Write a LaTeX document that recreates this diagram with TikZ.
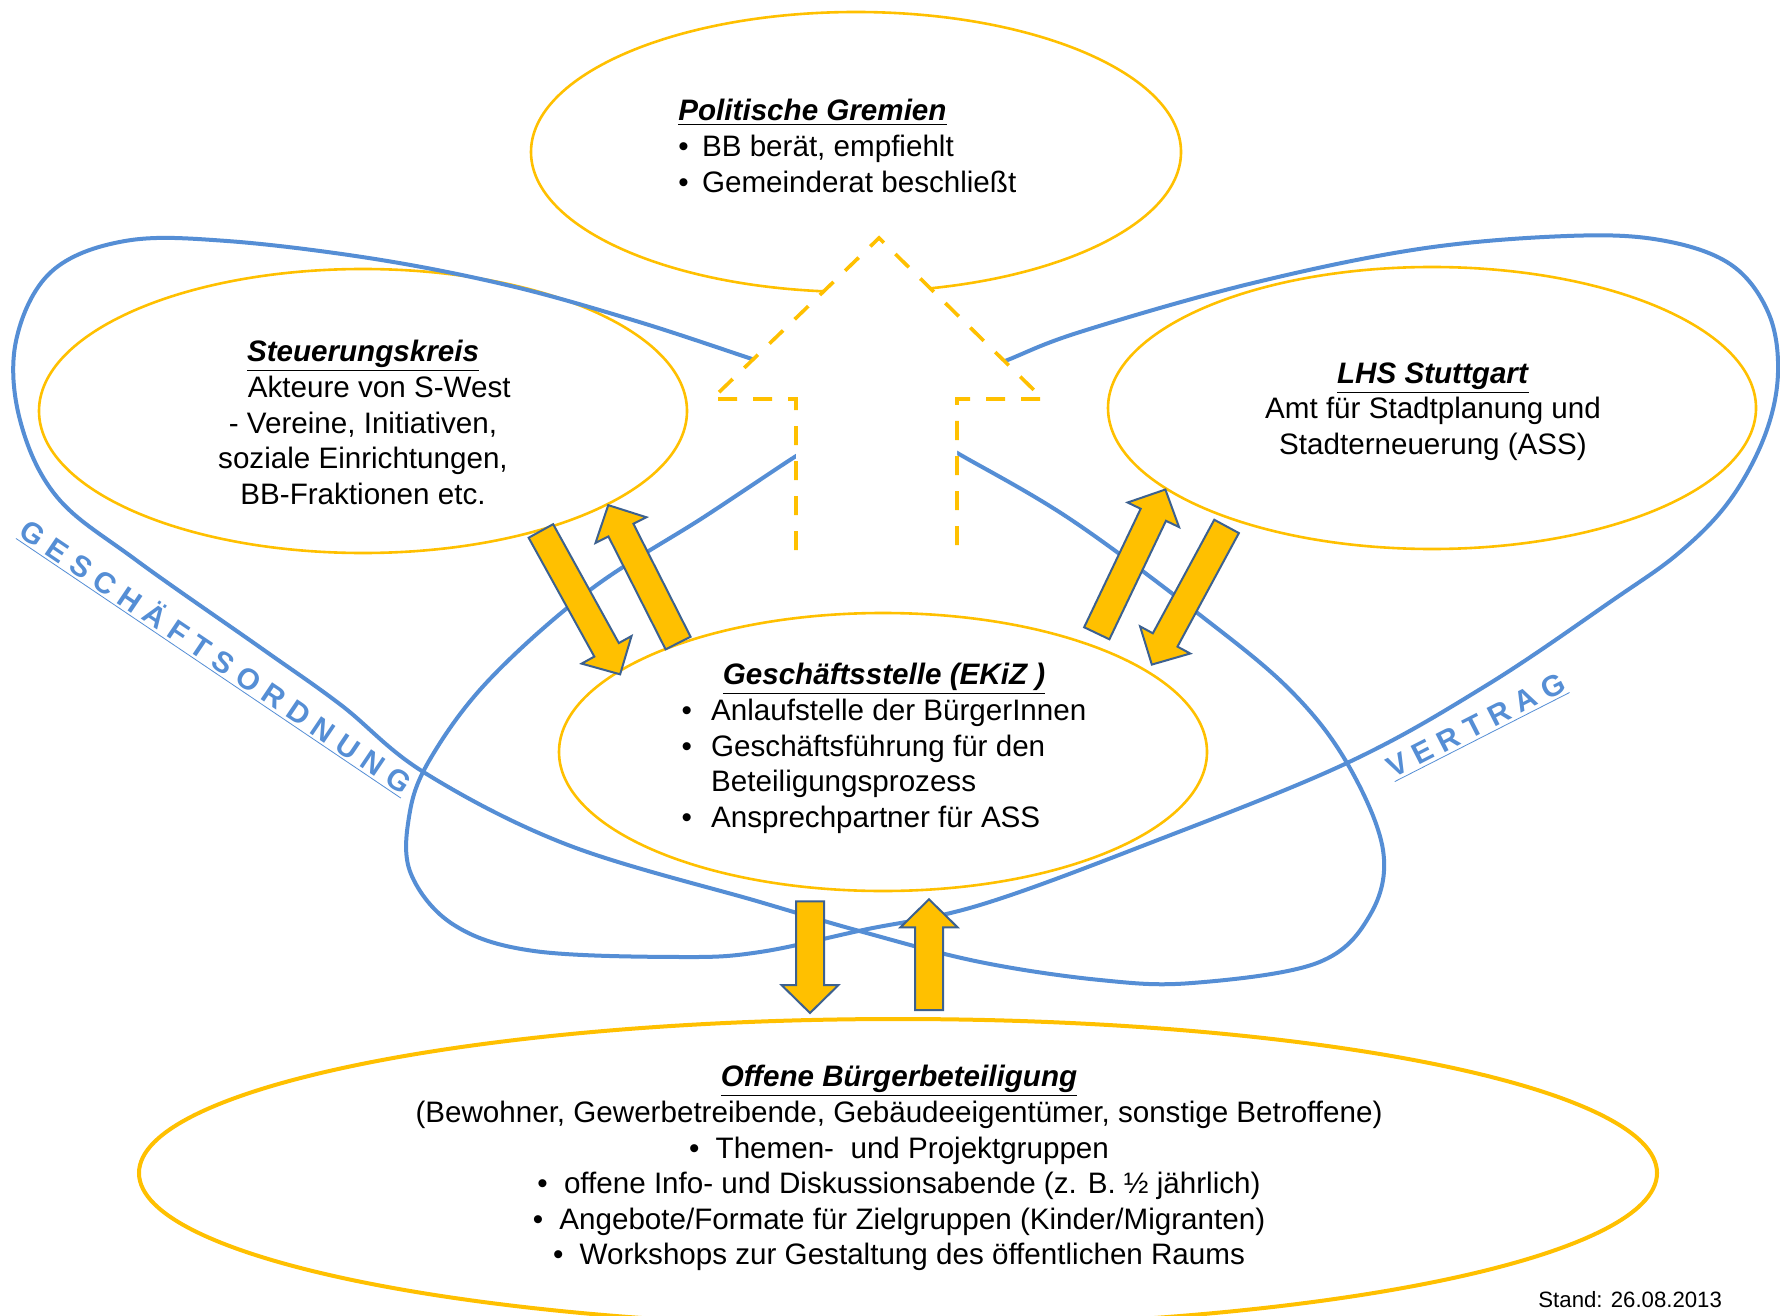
\documentclass[tikz,border=0pt]{standalone}
\usepackage{fontspec}
\setmainfont{Liberation Sans}
\newfontfamily\spacedfont[LetterSpace=29]{Liberation Sans Bold}
\usepackage{tikz}
\usetikzlibrary{shapes.geometric,calc}
\usepackage{xcolor}
\definecolor{gelb}{HTML}{FFC000}
\definecolor{blau}{HTML}{558ED5}
\definecolor{rand}{HTML}{3C6190}

\newcommand{\titel}[1]{\underline{\textbf{\textit{#1}}}}
\newcommand{\bul}[1][0.95em]{\makebox[#1][l]{\textbullet}}
% block arrow from #1 to #2
\newcommand{\blockarrow}[2]{%
\coordinate (ba-s) at (#1);
\coordinate (ba-e) at (#2);
\coordinate (ba-b) at ($(ba-e)!14pt!(ba-s)$);
\filldraw[blockpfeil] ($(ba-s)!7pt!90:(ba-e)$) -- ($(ba-b)!7pt!-90:(ba-s)$) -- ($(ba-b)!14.25pt!-90:(ba-s)$) -- (ba-e) -- ($(ba-b)!14.25pt!90:(ba-s)$) -- ($(ba-b)!7pt!90:(ba-s)$) -- ($(ba-s)!7pt!-90:(ba-e)$) -- cycle;}

\begin{document}
\begin{tikzpicture}[x=0.5pt,y=-0.5pt,
  rahmen/.style={ellipse,draw=gelb,line width=1.3pt,inner sep=0pt},
  blaulinie/.style={draw=blau,line width=2pt},
  blockpfeil/.style={fill=gelb,draw=rand,line width=1pt,line join=miter},
  inhalt/.style={inner sep=0pt,font=\fontsize{14.8}{17.8}\selectfont},
  schleife/.style={text=blau,inner sep=0pt,font=\fontsize{14.8}{17}\selectfont\spacedfont}]
\useasboundingbox (0,0) rectangle (1780,1315);
\clip (0,0) rectangle (1780,1315);
\fill[white] (0,0) rectangle (1780,1315);

\node[rahmen,minimum width=325pt,minimum height=140pt] (pg) at (856,152) {};% Politische Gremien
\node[rahmen,minimum width=324pt,minimum height=142pt] (sk) at (363,411) {};% Steuerungskreis
\node[rahmen,minimum width=324pt,minimum height=141pt] (lhs) at (1432,408) {};% LHS Stuttgart
\node[rahmen,minimum width=324pt,minimum height=139pt] (gs) at (883,752) {};% Geschaeftsstelle
\node[rahmen,line width=2pt,minimum width=759pt,minimum height=154pt] (ob) at (898,1173) {};% Offene Buergerbeteiligung

% left loop
\draw[blaulinie] plot[smooth,tension=0.6] coordinates {(790,372) (749,358) (636,321) (511,286) (375,259) (227,241) (125,241) (51,272) (16,341) (20,420) (57,497) (136,560) (261,648) (341,705) (425,773) (568,845) (760,902) (863,932) (980,962) (1100,980) (1192,983) (1317,963) (1370,915) (1383,850) (1347,763) (1290,690) (1200,615) (1070,519) (959,454) (935,440)};
% right loop
\draw[blaulinie] plot[smooth,tension=0.6] coordinates {(955,380) (1005,361) (1080,332) (1249,284) (1419,249) (1567,236) (1660,240) (1730,264) (1768,312) (1778,372) (1765,435) (1730,500) (1680,552) (1613,600) (1487,685) (1347,763) (1150,843) (980,905) (863,930) (760,952) (681,957) (534,951) (454,925) (411,874) (409,817) (429,761) (488,681) (590,590) (704,517) (793,458) (815,446)};

% dashed arrow
\fill[white] (879,238) -- (1043,399) -- (957,399) -- (957,560) -- (796,560) -- (796,399) -- (712,399) -- cycle;
\draw[gelb,line width=1.8pt,dash pattern=on 9.5pt off 8pt] (957,545) -- (957,399) -- (1043,399) -- (879,238) -- (712,399) -- (796,399) -- (796,558);

\node[inhalt,anchor=north west,align=left] (pgtext) at (678,99) {\titel{Politische Gremien}\\ \bul[0.8em]BB berät, empfiehlt\\ \bul[0.8em]Gemeinderat beschließt};
\node[inhalt,anchor=north,align=center] (sktext) at (363,340) {\titel{Steuerungskreis}\\ \hspace*{1.1em}Akteure von S-West\\ - Vereine, Initiativen,\\ soziale Einrichtungen,\\ BB-Fraktionen etc.};
\node[inhalt,anchor=north,align=center] (lhstext) at (1433,362) {\titel{LHS Stuttgart}\\ Amt für Stadtplanung und\\ Stadterneuerung (ASS)};
\node[inhalt,anchor=north,align=center] (gstext) at (884,663) {\titel{Geschäftsstelle (EKiZ )}\\ \begin{tabular}[t]{@{}l@{}}\bul[1em]Anlaufstelle der BürgerInnen\\ \bul[1em]Geschäftsführung für den\\ \hspace*{1em}Beteiligungsprozess\\ \bul[1em]Ansprechpartner für ASS\end{tabular}};
\node[inhalt,anchor=north,align=center] (obtext) at (899,1065) {\titel{Offene Bürgerbeteiligung}\\ (Bewohner, Gewerbetreibende, Gebäudeeigentümer, sonstige Betroffene)\\ \bul[0.9em]Themen-\ \ und Projektgruppen\\ \bul[0.9em]offene Info- und Diskussionsabende (z. B. ½ jährlich)\\ \bul[0.9em]Angebote/Formate für Zielgruppen (Kinder/Migranten)\\ \bul[0.9em]Workshops zur Gestaltung des öffentlichen Raums};
\node[anchor=base west,inner sep=0pt,font=\fontsize{11.1}{13}\selectfont] (stand) at (1538,1307) {Stand: 26.08.2013};

% yellow block arrows
\blockarrow{sk.-34}{$(gs.164)+(8,0)$}% down left
\blockarrow{gs.152}{sk.-21}% up left
\blockarrow{$(gs.29)+(14,-8)$}{lhs.197}% up right
\blockarrow{$(lhs.-150)+(-9,5)$}{$(gs.18)+(9,-3)$}% down right
\blockarrow{$(gs.south)+(-73,9)$}{$(ob.north)+(-88,-4)$}% down
\blockarrow{$(ob.north)+(31,-7)$}{$(gs.south)+(46,7)$}% up

\node[schleife,rotate=-34] (ordnung) at (216,657) {\underline{GESCHÄFTSORDNUNG}};
\node[schleife,rotate=27] (vertrag) at (1477,727) {\underline{VERTRAG}};
\end{tikzpicture}
\end{document}
